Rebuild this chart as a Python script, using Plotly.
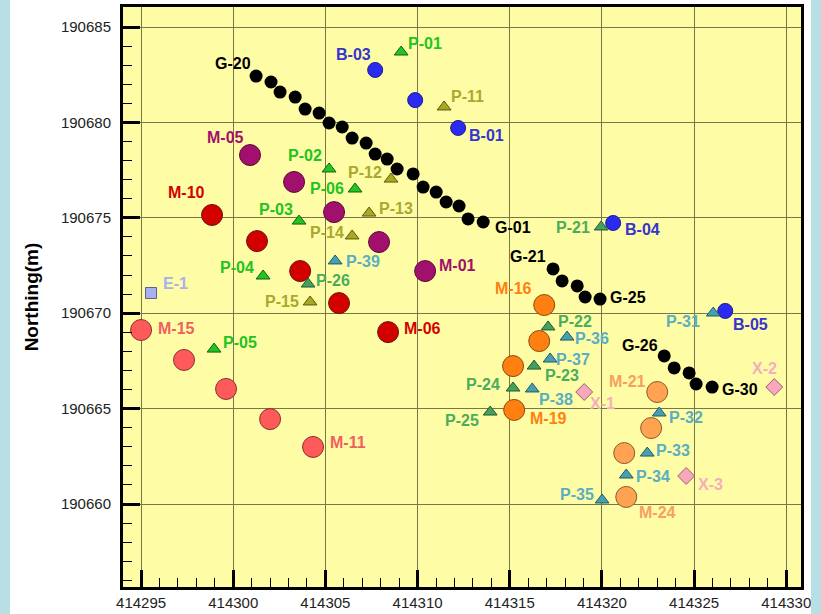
import plotly.graph_objects as go

# ---------------- data (easting / northing in metres) ----------------
G_id = ["G-%02d" % i for i in range(20, 0, -1)] + ["G-21", "G-22", "G-23", "G-24", "G-25",
                                                   "G-26", "G-27", "G-28", "G-29", "G-30"]
G_x = [414301.24, 414302.05, 414302.54, 414303.36, 414303.90, 414304.66, 414305.20, 414305.91,
       414306.45, 414307.21, 414307.70, 414308.35, 414308.89, 414309.76, 414310.30, 414311.01,
       414311.55, 414312.25, 414312.74, 414313.56,
       414317.35, 414317.84, 414318.66, 414319.09, 414319.90,
       414323.38, 414323.92, 414324.73, 414325.11, 414325.98]
G_y = [190682.43, 190682.12, 190681.59, 190681.33, 190680.70, 190680.49, 190679.97, 190679.76,
       190679.18, 190678.92, 190678.34, 190678.08, 190677.56, 190677.30, 190676.61, 190676.35,
       190675.83, 190675.62, 190674.94, 190674.78,
       190672.32, 190671.69, 190671.43, 190670.85, 190670.74,
       190667.76, 190667.13, 190666.87, 190666.29, 190666.13]

B_id = ["B-03", "B-02", "B-01", "B-04", "B-05"]
B_x = [414307.70, 414309.87, 414312.20, 414320.61, 414326.69]
B_y = [190682.75, 190681.17, 190679.71, 190674.73, 190670.12]

P1_id = ["P-01", "P-02", "P-06", "P-03", "P-04", "P-05"]
P1_x = [414309.11, 414305.20, 414306.61, 414303.57, 414301.62, 414298.96]
P1_y = [190683.69, 190677.56, 190676.51, 190674.83, 190671.95, 190668.12]

P2_id = ["P-11", "P-12", "P-13", "P-14", "P-15"]
P2_x = [414311.44, 414308.56, 414307.37, 414306.45, 414304.17]
P2_y = [190680.81, 190677.03, 190675.25, 190674.05, 190670.59]

P3_id = ["P-21", "P-22", "P-23", "P-24", "P-25", "P-26"]
P3_x = [414319.96, 414317.08, 414316.32, 414315.18, 414313.94, 414304.06]
P3_y = [190674.52, 190669.28, 190667.23, 190666.08, 190664.82, 190671.53]

P4_id = ["P-31", "P-32", "P-33", "P-34", "P-35", "P-36", "P-37", "P-38", "P-39"]
P4_x = [414326.04, 414323.11, 414322.46, 414321.32, 414320.01, 414318.11, 414317.19, 414316.22, 414305.53]
P4_y = [190670.01, 190664.77, 190662.67, 190661.52, 190660.21, 190668.75, 190667.60, 190666.03, 190672.74]

M1_id = ["M-05", "M-04", "M-03", "M-02", "M-01"]
M1_x = [414300.91, 414303.30, 414305.47, 414307.91, 414310.41]
M1_y = [190678.29, 190676.88, 190675.30, 190673.73, 190672.21]

M2_id = ["M-10", "M-09", "M-08", "M-07", "M-06"]
M2_x = [414298.85, 414301.29, 414303.63, 414305.74, 414308.40]
M2_y = [190675.15, 190673.78, 190672.21, 190670.53, 190669.01]

M3_id = ["M-15", "M-14", "M-13", "M-12", "M-11"]
M3_x = [414295.00, 414297.33, 414299.61, 414302.00, 414304.33]
M3_y = [190669.12, 190667.55, 190666.03, 190664.45, 190662.99]

M4_id = ["M-16", "M-17", "M-18", "M-19"]
M4_x = [414316.87, 414316.60, 414315.18, 414315.24]
M4_y = [190670.43, 190668.54, 190667.23, 190664.93]

M5_id = ["M-21", "M-22", "M-23", "M-24"]
M5_x = [414323.00, 414322.67, 414321.21, 414321.32]
M5_y = [190665.87, 190663.98, 190662.67, 190660.37]

X_id = ["X-1", "X-2", "X-3"]
X_x = [414319.04, 414329.35, 414324.57]
X_y = [190665.87, 190666.13, 190661.47]

E_id = ["E-1"]
E_x = [414295.54]
E_y = [190671.06]

x_ticks = [414295, 414300, 414305, 414310, 414315, 414320, 414325, 414330]
y_ticks = [190660, 190665, 190670, 190675, 190680, 190685]

LABELED = ["G-20", "G-01", "G-21", "G-25", "G-26", "G-30",
           "B-03", "B-01", "B-04", "B-05",
           "P-01", "P-02", "P-06", "P-03", "P-04", "P-05",
           "P-11", "P-12", "P-13", "P-14", "P-15",
           "P-21", "P-22", "P-23", "P-24", "P-25", "P-26",
           "P-31", "P-32", "P-33", "P-34", "P-35", "P-36", "P-37", "P-38", "P-39",
           "M-05", "M-01", "M-10", "M-06", "M-15", "M-11", "M-16", "M-19", "M-21", "M-24",
           "X-1", "X-2", "X-3", "E-1"]

# ---------------- styles ----------------
# label pixel offsets (dx right, dy down)
OFFSETS = {
    "G-20": (-23, -13), "G-01": (30, 5), "G-21": (-25, -12), "G-25": (28, -2),
    "G-26": (-24, -10), "G-30": (28, 2),
    "B-03": (-22, -15), "B-01": (28, 8), "B-04": (29, 7), "B-05": (25, 14),
    "P-01": (24, -9), "P-02": (-24, -13), "P-06": (-28, -1), "P-03": (-23, -12),
    "P-04": (-26, -9), "P-05": (26, -7),
    "P-11": (23, -10), "P-12": (-26, -7), "P-13": (27, -5), "P-14": (-25, -3), "P-15": (-28, 0),
    "P-21": (-28, 1), "P-22": (27, -5), "P-23": (28, 9), "P-24": (-30, -4), "P-25": (-28, 8),
    "P-26": (25, -4),
    "P-31": (-30, 8), "P-32": (27, 4), "P-33": (26, -3), "P-34": (27, 1), "P-35": (-25, -6),
    "P-36": (25, 1), "P-37": (23, 0), "P-38": (24, 11), "P-39": (28, 1),
    "M-05": (-25, -18), "M-01": (32, -6), "M-10": (-26, -22), "M-06": (34, -4),
    "M-15": (35, -2), "M-11": (35, -4), "M-16": (-31, -17), "M-19": (34, 9),
    "M-21": (-30, -11), "M-24": (31, 16),
    "X-1": (18, 11), "X-2": (-10, -19), "X-3": (24, 9), "E-1": (24, -9),
}

groups = [
    # ids, xs, ys, symbol, size, fill, outline, label colour
    (G_id, G_x, G_y, "circle", 13, "#000000", "#000000", "#000000"),
    (M1_id, M1_x, M1_y, "circle", 21, "#a1106c", "#5a0838", "#a1106c"),
    (M2_id, M2_x, M2_y, "circle", 21, "#d30000", "#6a1010", "#d30000"),
    (M3_id, M3_x, M3_y, "circle", 21, "#ff5a5a", "#8a3030", "#f06060"),
    (M4_id, M4_x, M4_y, "circle", 21, "#ff7f10", "#8a4a10", "#ff7f10"),
    (M5_id, M5_x, M5_y, "circle", 21, "#ffa252", "#8a5a30", "#f5a060"),
    (B_id, B_x, B_y, "circle", 15, "#2a2af0", "#1a1a90", "#3535d0"),
    (P1_id, P1_x, P1_y, "triangle-up", 12, "#22c322", "#106010", "#22c322"),
    (P2_id, P2_x, P2_y, "triangle-up", 12, "#a8a822", "#5a5a10", "#a8a830"),
    (P3_id, P3_x, P3_y, "triangle-up", 12, "#45a060", "#205a30", "#4aac5e"),
    (P4_id, P4_x, P4_y, "triangle-up", 12, "#45a0b2", "#205a66", "#5aaec0"),
    (X_id, X_x, X_y, "diamond", 13, "#f7a8bc", "#9a6070", "#f4aebe"),
    (E_id, E_x, E_y, "square", 11, "#a8b0f4", "#606090", "#a8b0f0"),
]

fig = go.Figure()
annotations = []
for ids, xs, ys, sym, size, fill, outline, lab_col in groups:
    fig.add_trace(go.Scatter(
        x=xs, y=ys, mode="markers", hoverinfo="skip", showlegend=False,
        marker=dict(symbol=sym, size=size, color=fill,
                    line=dict(width=1 if fill != "#000000" else 0, color=outline)),
    ))
    for name, xv, yv in zip(ids, xs, ys):
        if name in LABELED:
            dx, dy = OFFSETS[name]
            annotations.append(dict(
                x=xv, y=yv, xref="x", yref="y", text=name, showarrow=False,
                xshift=dx, yshift=-dy,
                font=dict(family="Liberation Sans, Arial, sans-serif", size=16,
                          color=lab_col, weight="bold"),
            ))

grid_col = "#77774a"
fig.update_layout(
    width=821, height=614,
    margin=dict(l=123, r=20, t=7, b=27, autoexpand=False),
    paper_bgcolor="#ffffff",
    plot_bgcolor="#fffca6",
    font=dict(family="Liberation Sans, Arial, sans-serif", size=15, color="#222222"),
    annotations=annotations,
    shapes=[
        dict(type="rect", xref="paper", yref="paper", x0=-0.1814, x1=-0.1667, y0=-0.05, y1=1.02,
             fillcolor="#b7dfe5", line=dict(width=0), layer="below"),
        dict(type="rect", xref="paper", yref="paper", x0=1.0147, x1=1.03, y0=-0.05, y1=1.02,
             fillcolor="#b7dfe5", line=dict(width=0), layer="above"),
    ],
)
fig.update_xaxes(
    range=[414294.02, 414330.8], tickvals=x_ticks, tickformat="d", automargin=False,
    showgrid=True, gridcolor=grid_col, gridwidth=1, zeroline=False,
    showline=True, mirror=True, linecolor="#000000", linewidth=3,
    ticks="inside", ticklen=17, tickwidth=3, tickcolor="#000000",
    minor=dict(dtick=1, ticks="inside", ticklen=9, tickwidth=1, tickcolor="#000000", showgrid=False),
    tickfont=dict(size=15, color="#222222"), ticklabelstandoff=0,
)
fig.update_yaxes(
    range=[190655.65, 190686.05], tickvals=y_ticks, tickformat="d", automargin=False,
    showgrid=True, gridcolor=grid_col, gridwidth=1, zeroline=False,
    showline=True, mirror=True, linecolor="#000000", linewidth=3,
    ticks="inside", ticklen=17, tickwidth=3, tickcolor="#000000",
    minor=dict(dtick=1, ticks="inside", ticklen=9, tickwidth=1, tickcolor="#000000", showgrid=False),
    tickfont=dict(size=15, color="#222222"), ticklabelstandoff=6,
    title=dict(text="Northing(m)", font=dict(size=19, color="#000000", weight="bold"), standoff=18),
)

fig.write_html("out.html", config={"displayModeBar": False},
               post_script="document.body.style.margin='0';")
